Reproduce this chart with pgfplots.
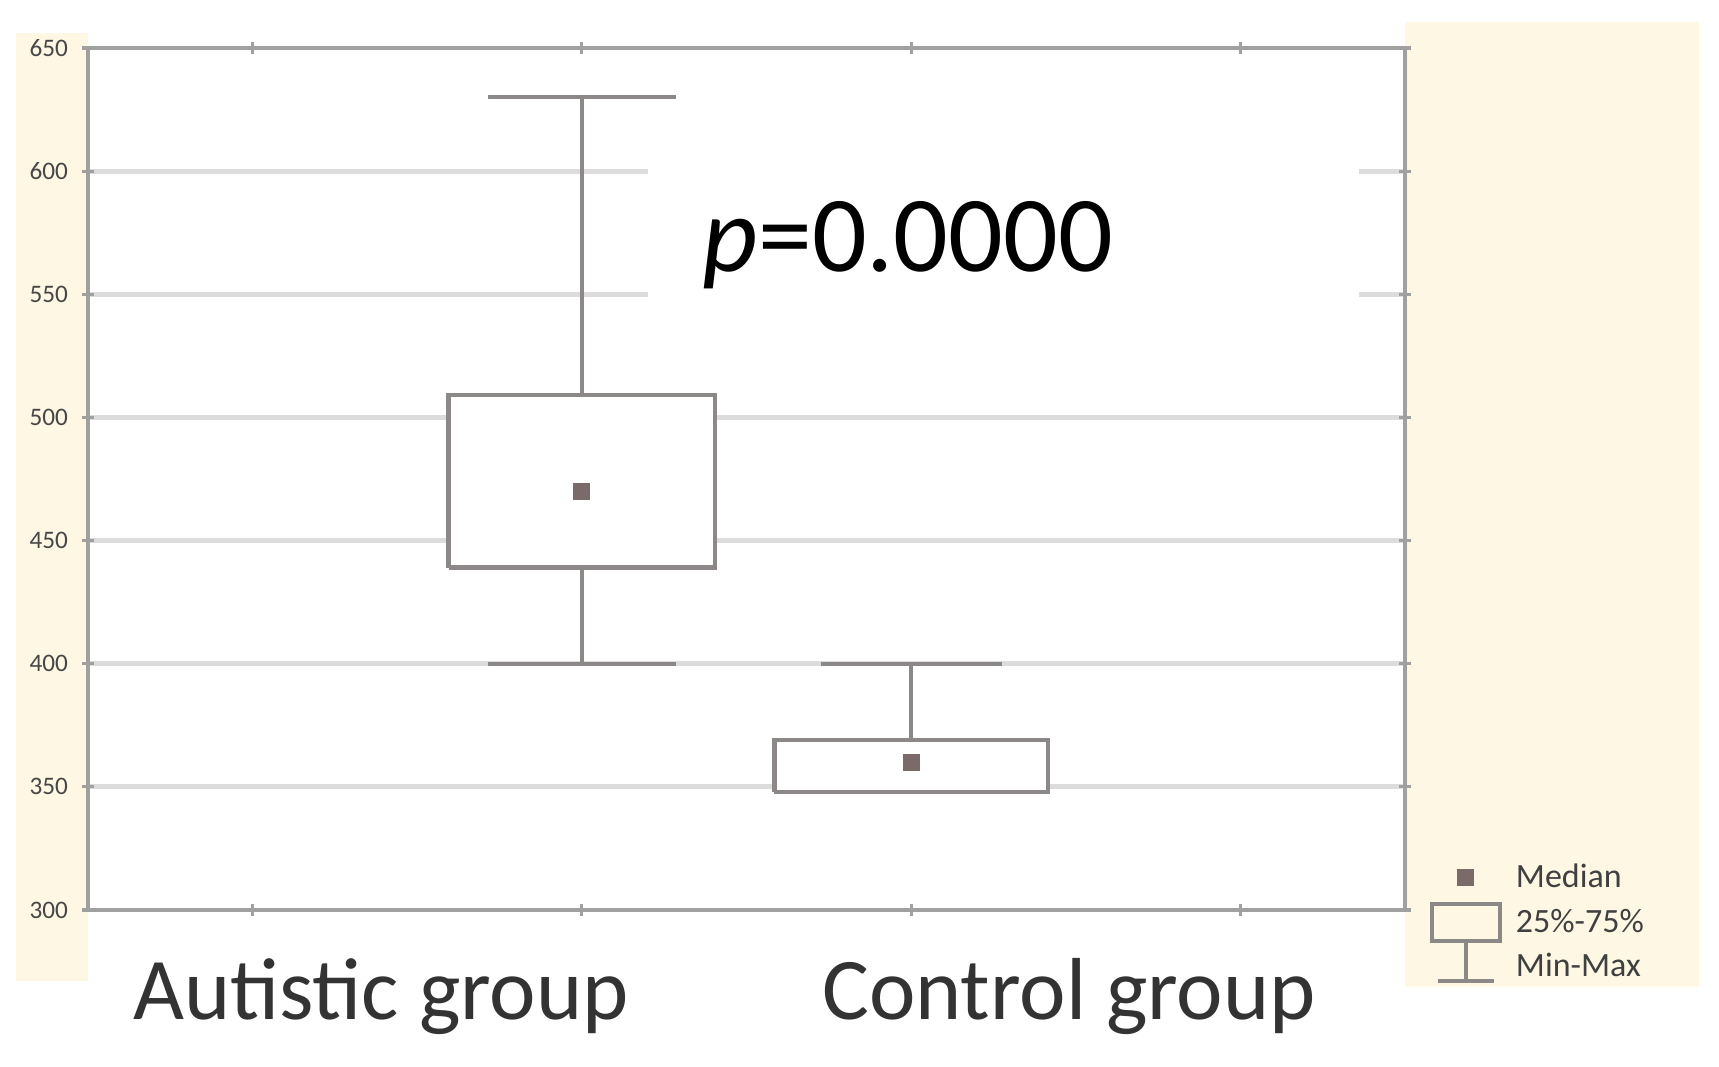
\documentclass[border=0pt]{standalone}
\usepackage{pgfplots}
\pgfplotsset{compat=1.18}
\usepackage{fontspec}
\setmainfont{Carlito}
\definecolor{cream}{HTML}{FDF7E3}
\definecolor{boxgray}{HTML}{8C8888}
\definecolor{gridgray}{HTML}{DCDCDC}
\definecolor{framegray}{HTML}{A0A0A0}
\definecolor{medcol}{HTML}{7A6A6A}
\begin{document}
\begin{tikzpicture}
% page and cream panels (sizes in pt, 1 px of the reference = 0.25pt)
\fill[white] (0pt,0pt) rectangle (429.75pt,266.75pt);
\fill[cream] (4pt,21.5pt) rectangle (22pt,258.5pt);
\fill[cream] (351.25pt,20pt) rectangle (424.75pt,261.25pt);
\begin{axis}[at={(22pt,39.25pt)},anchor=south west,scale only axis,width=329.25pt,height=215.5pt,
  xmin=0.5,xmax=4.5,ymin=300,ymax=650,
  xtick={1,2,3,4},xticklabels={},ytick={300,350,...,650},
  tick align=center,major tick length=3pt,tick style={framegray,line width=0.8pt},
  axis line style={framegray,line width=1pt},
  ymajorgrids,grid style={gridgray,line width=1.2pt},
  yticklabel style={font=\fontsize{6.3}{6.3}\selectfont,text=black!72},
  /pgf/number format/assume math mode=true,
  axis background/.style={fill=white},clip=false,
  every axis plot/.append style={draw=boxgray,line width=1.1pt,line join=miter},
  legend style={at={(1.018,0.0615)},anchor=north west,draw=none,fill=none,inner sep=0pt,
    font=\fontsize{8.5}{8.5}\selectfont,text=black!75,row sep=1pt,
    nodes={text height=6pt,text depth=1pt,inner sep=1.5pt},
    /tikz/every odd column/.append style={column sep=2pt}},
  legend cell align=left]
% Autistic group: min 400, Q1 439, median 470, Q3 509, max 630
\addplot[fill=white,forget plot] coordinates {(1.595,439) (2.405,439) (2.405,509) (1.595,509) (1.595,439)};
\addplot[forget plot] coordinates {(2,509) (2,630)};
\addplot[forget plot] coordinates {(1.715,630) (2.285,630)};
\addplot[forget plot] coordinates {(2,439) (2,400)};
\addplot[forget plot] coordinates {(1.715,400) (2.285,400)};
% Control group: min 348, Q1 348, median 360, Q3 369, max 400
\addplot[fill=white,forget plot] coordinates {(2.585,348) (3.415,348) (3.415,369) (2.585,369) (2.585,348)};
\addplot[forget plot] coordinates {(3,369) (3,400)};
\addplot[forget plot] coordinates {(2.725,400) (3.275,400)};
% medians
\addplot[only marks,mark=square*,mark size=1.6pt,draw=medcol,fill=medcol,forget plot] coordinates {(2,470) (3,360)};
\fill[white] (axis cs:2.2,540) rectangle (axis cs:4.36,607);
\node[font=\fontsize{27}{27}\selectfont] at (axis cs:2.99,570) {\textit{p}=0.0000};
\addlegendimage{legend image code/.code={\fill[medcol] (6.9pt,-1.6pt) rectangle (10.1pt,1.6pt);}}
\addlegendentry{Median}
\addlegendimage{legend image code/.code={\draw[boxgray,line width=1pt] (0pt,-4.6pt) rectangle (17pt,4.6pt);}}
\addlegendentry{25\%-75\%}
\addlegendimage{legend image code/.code={\path (0pt,-3pt) (17pt,3pt);
  \draw[boxgray,line width=1pt,overlay] (8.5pt,6.6pt) -- (8.5pt,-3.5pt) (1.5pt,-3.5pt) -- (15.5pt,-3.5pt);}}
\addlegendentry{Min-Max}
\end{axis}
\node[anchor=base,font=\fontsize{22}{22}\selectfont,text=black!80] at (95.25pt,11.75pt) {Autistic group};
\node[anchor=base,font=\fontsize{22}{22}\selectfont,text=black!80] at (267.25pt,11.75pt) {Control group};
\end{tikzpicture}
\end{document}
